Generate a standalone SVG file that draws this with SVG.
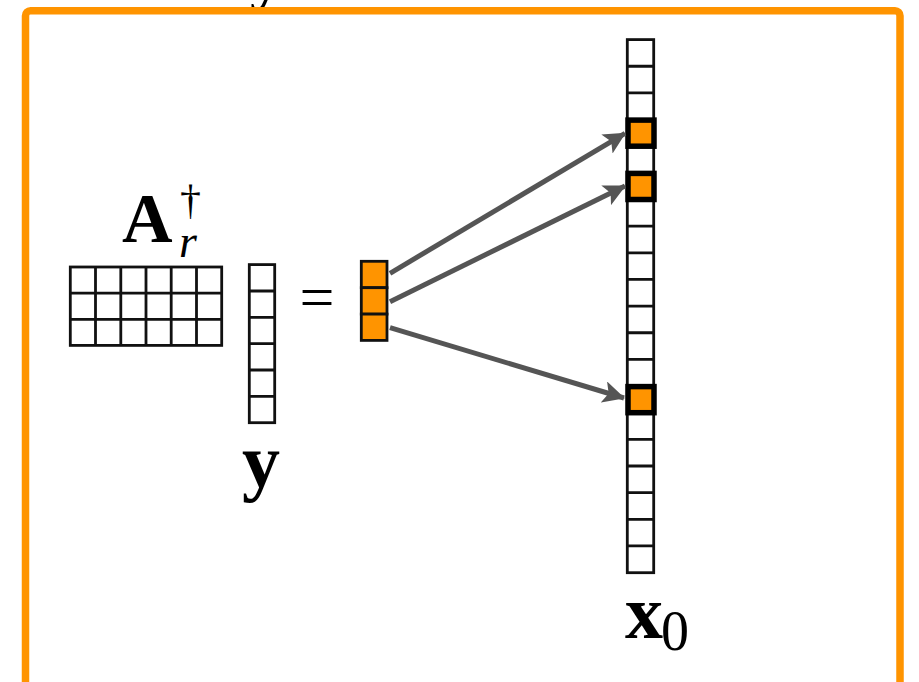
<svg xmlns="http://www.w3.org/2000/svg" width="919" height="682" viewBox="0 0 919 682">
  <style>
    .frame { fill: #ffffff; stroke: #ff9400; stroke-width: 7.5; }
    .grid { fill: none; stroke: #111111; stroke-width: 2.8; }
    .ocell { fill: #ff9400; stroke: #111111; stroke-width: 2.8; }
    .hcell { fill: #ff9400; stroke: #000000; stroke-width: 5.5; }
    .conn { fill: none; stroke: #555555; stroke-width: 5; }
    .tex { font-family: "Liberation Serif", "Times New Roman", serif; fill: #000000; }
    .bold { font-weight: bold; }
  </style>
  <defs>
    <marker id="arrow" viewBox="0 0 22 22" refX="21" refY="11" markerWidth="22" markerHeight="22" markerUnits="userSpaceOnUse" orient="auto">
      <path d="M0,0 L22,11 L0,22 L5,11 Z" fill="#555555"/>
    </marker>
  </defs>

  <rect width="919" height="682" fill="#ffffff"/>

  <!-- cut-off label above frame -->
  <text class="tex bold" x="250" y="-2" font-size="64">y</text>

  <!-- frame -->
  <rect class="frame" x="25.5" y="10.8" width="874.5" height="720" rx="5"/>

  <!-- matrix A_r^dagger -->
  <g id="matrixA">
    <rect class="grid" x="70.3" y="267" width="151.4" height="78.4"/>
    <path class="grid" d="M95.5,267 V345.4 M120.8,267 V345.4 M146,267 V345.4 M171.2,267 V345.4 M196.5,267 V345.4 M70.3,293.1 H221.7 M70.3,319.3 H221.7"/>
    <text class="tex bold" x="122" y="241.7" font-size="70">A</text>
    <text class="tex" x="180" y="214" font-size="42">†</text>
    <text class="tex" x="179" y="257" font-size="46" font-style="italic">r</text>
  </g>

  <!-- vector y -->
  <g id="vectorY">
    <rect class="grid" x="249.3" y="264.6" width="25.4" height="158.1"/>
    <path class="grid" d="M249.3,291 H274.7 M249.3,317.3 H274.7 M249.3,343.7 H274.7 M249.3,370 H274.7 M249.3,396.4 H274.7"/>
    <text class="tex bold" x="242" y="487" font-size="76">y</text>
  </g>

  <!-- equals -->
  <g id="equals">
    <text class="tex" x="317" y="318" font-size="62" text-anchor="middle">=</text>
  </g>

  <!-- orange result vector -->
  <g id="vectorR">
    <rect class="ocell" x="361.3" y="261.3" width="25.7" height="26.4"/>
    <rect class="ocell" x="361.3" y="287.7" width="25.7" height="26.4"/>
    <rect class="ocell" x="361.3" y="314.1" width="25.7" height="26.3"/>
  </g>

  <!-- vector x0 -->
  <g id="vectorX0">
    <rect class="grid" x="627.3" y="39.6" width="26.4" height="533.1"/>
    <path class="grid" d="M627.3,66.25 H653.7 M627.3,92.9 H653.7 M627.3,119.55 H653.7 M627.3,146.2 H653.7 M627.3,172.85 H653.7 M627.3,199.5 H653.7 M627.3,226.15 H653.7 M627.3,252.8 H653.7 M627.3,279.45 H653.7 M627.3,306.1 H653.7 M627.3,332.75 H653.7 M627.3,359.4 H653.7 M627.3,386.05 H653.7 M627.3,412.7 H653.7 M627.3,439.35 H653.7 M627.3,466 H653.7 M627.3,492.65 H653.7 M627.3,519.3 H653.7 M627.3,545.95 H653.7"/>
    <rect class="hcell" x="628" y="120.1" width="26" height="26.1"/>
    <rect class="hcell" x="628" y="173.4" width="26" height="26.1"/>
    <rect class="hcell" x="628" y="386.6" width="26" height="26.1"/>
    <text class="tex bold" x="625" y="638" font-size="76">x</text>
    <text class="tex" x="661" y="650" font-size="56">0</text>
  </g>

  <!-- connectors -->
  <g id="connectors">
    <line class="conn" x1="390" y1="273.3" x2="625" y2="133.3" marker-end="url(#arrow)"/>
    <line class="conn" x1="390" y1="301.7" x2="625" y2="186" marker-end="url(#arrow)"/>
    <line class="conn" x1="390" y1="327.7" x2="624" y2="398" marker-end="url(#arrow)"/>
  </g>
</svg>
